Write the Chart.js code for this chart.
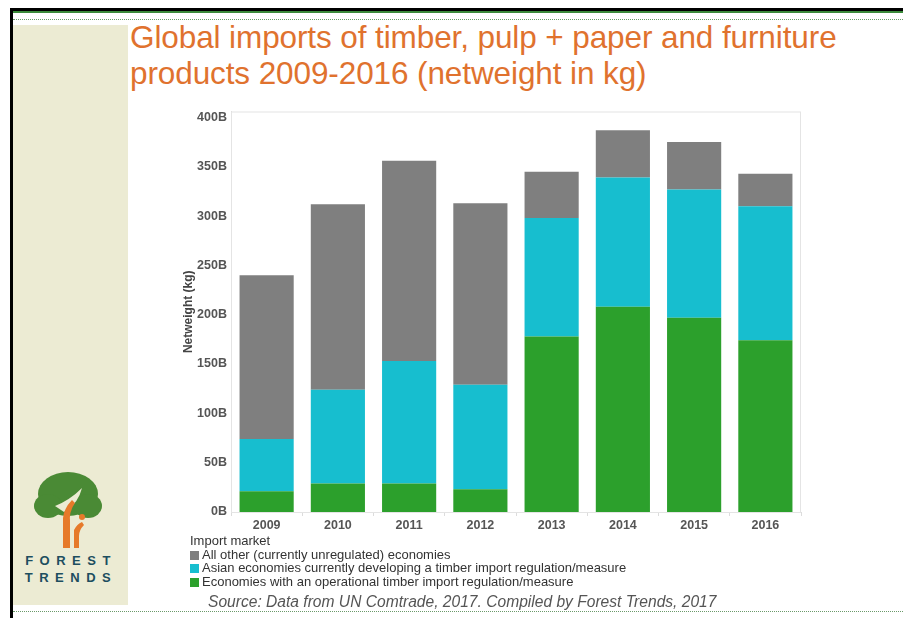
<!DOCTYPE html>
<html lang="en">
<head>
<meta charset="UTF-8">
<title>Global imports of timber, pulp + paper and furniture products</title>
<style>
  body { margin: 0; width: 903px; height: 618px; background: #fff; font-family: "Liberation Sans", Arial, sans-serif; overflow: hidden; position: relative; }
  #topbar { position: absolute; left: 10px; top: 8px; width: 893px; height: 3px; background: #000; }
  #topgreen { position: absolute; left: 12px; top: 11px; width: 891px; height: 2px; background: #3a8a3a; }
  #leftbar { position: absolute; left: 10px; top: 8px; width: 3px; height: 610px; background: #000; }
  #dots-top { position: absolute; left: 13px; top: 19px; width: 890px; border-top: 1px dotted #6a9a6a; }
  #dots-bottom { position: absolute; left: 13px; top: 611px; width: 890px; border-top: 1px dotted #6a9a6a; }
  #panel { position: absolute; left: 13px; top: 25px; width: 115px; height: 580px; background: #ecebd3; }
  #title { position: absolute; left: 130px; top: 19px; color: #e0722e; font-size: 31.5px; line-height: 36px; letter-spacing: -0.1px; }
  #chart-wrap { position: absolute; left: 170px; top: 100px; width: 640px; height: 440px; }
  #legend { position: absolute; left: 190px; top: 534px; font-size: 13px; color: #333; line-height: 13.7px; }
  #legend .sw { display: inline-block; width: 9px; height: 9px; margin-right: 3px; vertical-align: -1px; }
  #source { position: absolute; left: 208px; top: 593px; font-size: 15.6px; font-style: italic; color: #555; }
  #logo-text { position: absolute; left: 21px; top: 552px; width: 100px; color: #1d4e5f; font-weight: bold; font-size: 13px; letter-spacing: 6.5px; line-height: 17px; text-align: center; }
</style>
</head>
<body>
  <div id="panel"></div>
  <div id="topbar"></div>
  <div id="topgreen"></div>
  <div id="leftbar"></div>
  <div id="dots-top"></div>
  <div id="dots-bottom"></div>

  <svg style="position:absolute; left:30px; top:470px" width="75" height="80" viewBox="0 0 75 80">
    <ellipse cx="38" cy="24" rx="30" ry="22" fill="#4a8a35" />
    <ellipse cx="18" cy="36" rx="14" ry="12" fill="#4a8a35" />
    <ellipse cx="58" cy="36" rx="14" ry="12" fill="#4a8a35" />
    <path d="M25 36 Q40 30 52 18 Q48 34 34 42 Z" fill="#ecebd3" />
    <path d="M33 78 L33 48 Q34 38 42 30 L45 33 Q39 42 40 50 L40 78 Z" fill="#e67a2a" />
    <path d="M44 78 L44 60 Q47 54 52 52 L54 55 Q49 60 49 66 L49 78 Z" fill="#e67a2a" />
    <circle cx="52" cy="47" r="3" fill="#e67a2a" />
  </svg>
  <div id="logo-text">FOREST<br>TRENDS</div>

  <div id="title">Global imports of timber, pulp + paper and furniture<br>products 2009-2016 (netweight in kg)</div>

  <div id="chart-wrap"><canvas id="chart-canvas"></canvas></div>

  <div id="legend"></div>

  <div id="source">Source: Data from UN Comtrade, 2017. Compiled by Forest Trends, 2017</div>

  <script src="https://cdn.jsdelivr.net/npm/chart.js@4.4.8/dist/chart.umd.min.js"></script>
  <script>
    // data (billions of kg)
    const years = ['2009', '2010', '2011', '2012', '2013', '2014', '2015', '2016'];
    const regulated = [21, 29, 29, 23, 178, 208, 197, 174];
    const asianDeveloping = [53, 95, 124, 106, 120, 131, 130, 136];
    const allOther = [166, 188, 203, 184, 47, 48, 48, 33];
    const yTicks = [0, 50, 100, 150, 200, 250, 300, 350, 400];

    const seriesNames = [
      'All other (currently unregulated) economies',
      'Asian economies currently developing a timber import regulation/measure',
      'Economies with an operational timber import regulation/measure'
    ];
    const seriesColors = ['#7f7f7f', '#17becf', '#2ca02c'];

    // light frame round the plot area
    const plotFrame = {
      id: 'plotFrame',
      beforeDatasetsDraw(chart) {
        const { ctx, chartArea: a } = chart;
        ctx.save();
        ctx.strokeStyle = '#e4e4e4';
        ctx.lineWidth = 1;
        ctx.strokeRect(a.left + 0.5, a.top + 0.5, a.right - a.left - 1, a.bottom - a.top);
        ctx.restore();
      }
    };

    const context = document.getElementById('chart-canvas').getContext('2d');
    const chart = new Chart(context, {
      type: 'bar',
      data: {
        labels: years,
        datasets: [
          { label: seriesNames[2], data: regulated, backgroundColor: seriesColors[2] },
          { label: seriesNames[1], data: asianDeveloping, backgroundColor: seriesColors[1] },
          { label: seriesNames[0], data: allOther, backgroundColor: seriesColors[0] }
        ]
      },
      options: {
        responsive: true,
        maintainAspectRatio: false,
        animation: false,
        layout: { padding: { top: 5, right: 9, left: 0, bottom: 0 } },
        datasets: { bar: { barPercentage: 0.76, categoryPercentage: 1.0 } },
        plugins: {
          legend: { display: false },
          tooltip: { enabled: false }
        },
        scales: {
          x: {
            stacked: true,
            grid: { drawOnChartArea: false, color: '#dcdcdc', tickLength: 4, offset: true },
            border: { color: '#dcdcdc' },
            ticks: { color: '#555', font: { family: 'Liberation Sans', size: 12.5, weight: 'bold' }, padding: 2 },
            afterFit(scale) { scale.height = 28; }
          },
          y: {
            stacked: true,
            min: 0,
            max: 406,
            afterBuildTicks(scale) { scale.ticks = yTicks.map(v => ({ value: v })); },
            grid: { display: false, drawTicks: false },
            border: { color: '#dcdcdc' },
            ticks: {
              color: '#555',
              font: { family: 'Liberation Sans', size: 12.5, weight: 'bold' },
              padding: 4,
              callback: v => v + 'B'
            },
            title: {
              display: true,
              text: 'Netweight (kg)',
              color: '#444',
              font: { family: 'Liberation Sans', size: 12, weight: 'bold' },
              padding: { top: 11, bottom: 0 }
            },
            afterFit(scale) { scale.width = 61; }
          }
        }
      },
      plugins: [plotFrame]
    });

    // legend below the chart, one row per series, gray first as in the original
    const legend = document.getElementById('legend');
    let html = '<div>Import market</div>';
    seriesNames.forEach((name, i) => {
      html += '<div><span class="sw" style="background:' + seriesColors[i] + '"></span>' + name + '</div>';
    });
    legend.innerHTML = html;
  </script>
</body>
</html>
